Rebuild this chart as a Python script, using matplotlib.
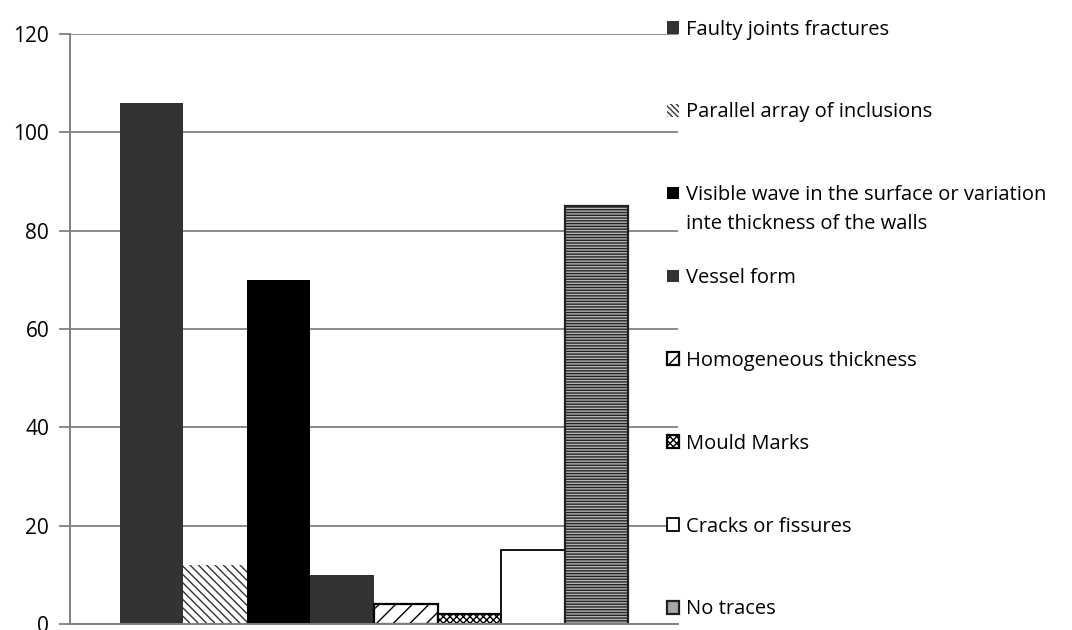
import numpy as np
import matplotlib
matplotlib.use("Agg")
import matplotlib.pyplot as plt
from matplotlib.patches import Patch

plt.rcParams['font.family'] = ['Open Sans', 'DejaVu Sans']
plt.rcParams['hatch.linewidth'] = 1.0

# trace categories and counts
labels = [
    "Faulty joints fractures",
    "Parallel array of inclusions",
    "Visible wave in the surface or variation",
    "Vessel form",
    "Homogeneous thickness",
    "Mould Marks",
    "Cracks or fissures",
    "No traces",
]
label_second_line = "inte thickness of the walls"
counts = [106, 12, 70, 10, 4, 2, 15, 85]
y_ticks = [0, 20, 40, 60, 80, 100, 120]

# bar styling
face_colors = ['#333333', 'white', 'black', '#333333', 'white', 'white', 'white', '#b4b4b4']
edge_colors = ['#333333', '#333333', 'black', '#333333', 'black', 'black', 'black', '#222222']
edge_widths = [0, 0, 0, 0, 1.6, 1.6, 1.3, 1.6]
hatches = [None, '\\\\\\\\', None, None, '//', 'xxxxx', None, '------']
# legend swatches use their own, smaller hatch patterns
legend_hatches = [None, '\\\\\\\\\\\\', None, None, '//', 'xxxxx', None, None]
legend_faces = ['#333333', 'white', 'black', '#333333', 'white', 'white', 'white', '#a8a8a8']

fig = plt.figure(figsize=(10.72, 6.30), dpi=100)
ax = fig.add_axes([0.0653, 0.0095, 0.5672, 0.9365])

x = np.arange(len(counts))
bars = ax.bar(x, counts, width=1.0, color=face_colors, edgecolor=edge_colors,
              linewidth=edge_widths, zorder=3)
for b, h in zip(bars, hatches):
    if h:
        b.set_hatch(h)

ax.set_xlim(-1.28, len(counts) - 1 + 1.28)
ax.set_ylim(0, 120)
ax.set_yticks(y_ticks)
ax.set_xticks([])
ax.tick_params(axis='y', length=8, width=1.3, color='#808080', labelsize=15, pad=7)
ax.yaxis.grid(True, color='#8a8a8a', linewidth=1.4, zorder=0)
for side in ('top', 'right'):
    ax.spines[side].set_visible(False)
for side in ('left', 'bottom'):
    ax.spines[side].set_color('#808080')
    ax.spines[side].set_linewidth(1.4)
ax.spines['bottom'].set_zorder(4)

handles = []
for fc, ec, lw, h in zip(legend_faces, edge_colors, edge_widths, legend_hatches):
    handles.append(Patch(facecolor=fc, edgecolor=ec, hatch=h, linewidth=lw))

fs = 14.5
leg = fig.legend(handles, labels, loc='upper left', bbox_to_anchor=(0.613, 0.985),
                 frameon=False, fontsize=fs, handlelength=0.58, handleheight=0.58,
                 handletextpad=0.33, labelspacing=3.12, borderpad=0)

# second line of the long label hangs under the first
fig.canvas.draw()
t = leg.get_texts()[2]
bb = t.get_window_extent().transformed(fig.transFigure.inverted())
fig.text(bb.x0, bb.y0 - 0.046, label_second_line, fontsize=fs, va='bottom', ha='left')

fig.savefig("out.png", dpi=100)
